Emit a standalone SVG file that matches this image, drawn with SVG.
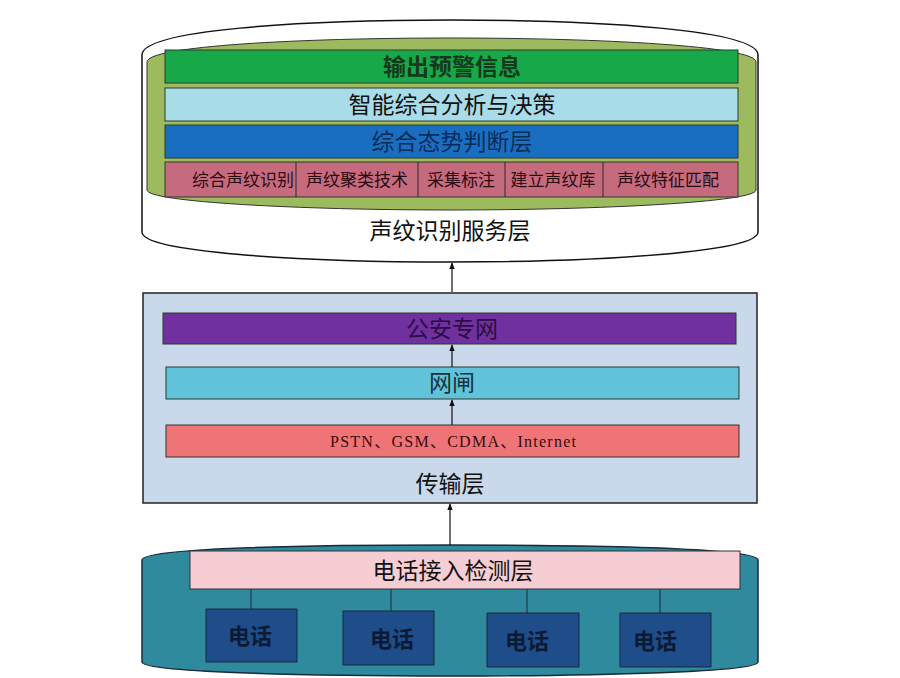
<svg xmlns="http://www.w3.org/2000/svg" width="900" height="678" viewBox="0 0 900 678">
<style>
.t{font-family:"Noto Sans CJK SC","Noto Sans",sans-serif;text-anchor:middle}
.b{font-weight:bold}
.bar{stroke:#2a3a2a;stroke-width:1}
.ln{stroke:#111;stroke-width:1.2;fill:none}
</style>
<defs>
<marker id="ah" viewBox="0 0 10 10" refX="9" refY="5" markerWidth="7" markerHeight="9" orient="auto" markerUnits="userSpaceOnUse">
<path d="M0,1 L10,5 L0,9 Z" fill="#111"/>
</marker>
</defs>
<rect width="900" height="678" fill="#fff"/>

<g id="service-layer">
<path d="M142,55 C142,30 300,20 450,20 C600,20 758,30 758,55 L758,232 C758,252 600,262 450,262 C300,262 142,252 142,232 Z" fill="#fff" stroke="#111" stroke-width="1.5"/>
<path d="M147,62 C147,46 300,38 450,38 C600,38 756,46 756,62 L756,190 C756,202 600,210 450,210 C300,210 147,202 147,190 Z" fill="#9dbb5e" stroke="#333" stroke-width="1"/>
<text class="t" x="450" y="239" font-size="23" fill="#111">声纹识别服务层</text>
</g>
<g id="output-warning">
<rect class="bar" x="165" y="50" width="573" height="33" fill="#17a84a"/>
<text class="t b" x="452" y="75" font-size="23" fill="#143a1e">输出预警信息</text>
</g>
<g id="analysis">
<rect class="bar" x="165" y="88" width="573" height="33" fill="#a9dce9"/>
<text class="t" x="452" y="113" font-size="23" fill="#111">智能综合分析与决策</text>
</g>
<g id="situation">
<rect class="bar" x="165" y="125" width="573" height="33" fill="#1a6ec2"/>
<text class="t" x="452" y="150" font-size="23" fill="#0c2c58">综合态势判断层</text>
</g>
<g id="functions">
<rect class="bar" x="165" y="162" width="573" height="35" fill="#c66a7e"/>
<line x1="296" y1="162" x2="296" y2="197" stroke="#2a2a2a"/>
<line x1="418" y1="162" x2="418" y2="197" stroke="#2a2a2a"/>
<line x1="505" y1="162" x2="505" y2="197" stroke="#2a2a2a"/>
<line x1="603" y1="162" x2="603" y2="197" stroke="#2a2a2a"/>
<text class="t" x="243" y="186" font-size="17" fill="#2a0a12">综合声纹识别</text>
<text class="t" x="357" y="186" font-size="17" fill="#2a0a12">声纹聚类技术</text>
<text class="t" x="461" y="186" font-size="17" fill="#2a0a12">采集标注</text>
<text class="t" x="553" y="186" font-size="17" fill="#2a0a12">建立声纹库</text>
<text class="t" x="668" y="186" font-size="17" fill="#2a0a12">声纹特征匹配</text>
</g>

<g id="transport-layer">
<rect x="143" y="293" width="614" height="210" fill="#c9d8ea" stroke="#222" stroke-width="1.5"/>
<text class="t" x="450" y="492" font-size="23" fill="#111">传输层</text>
</g>
<g id="police-net">
<rect class="bar" x="163" y="313" width="573" height="31" fill="#7030a0"/>
<text class="t" x="452" y="337" font-size="23" fill="#2a0e44">公安专网</text>
</g>
<g id="gatekeeper">
<rect class="bar" x="166" y="367" width="573" height="32" fill="#60c3d9"/>
<text class="t" x="452" y="391" font-size="23" fill="#15333d">网闸</text>
</g>
<g id="networks">
<rect class="bar" x="166" y="425" width="573" height="32" fill="#ef7477"/>
<text x="330" y="447" font-family="'Liberation Serif','Noto Sans CJK SC',serif" font-size="16" textLength="246" lengthAdjust="spacing" fill="#3a0a0a">PSTN、GSM、CDMA、Internet</text>
</g>

<g id="access-layer">
<path d="M142,560 C142,548 300,545 450,545 C600,545 758,548 758,560 L758,662 C758,672 600,676 450,676 C300,676 142,672 142,662 Z" fill="#2f8a9d" stroke="#1a2a3a" stroke-width="1.5"/>
<rect x="190" y="551" width="550" height="38" fill="#f5cdd3" stroke="#333" stroke-width="1"/>
<text class="t" x="453" y="579" font-size="23" fill="#111">电话接入检测层</text>
</g>
<g id="phone1">
<rect x="206" y="609" width="91" height="53" fill="#1f4d8a" stroke="#1a2a3a"/>
<text class="t b" x="250" y="644" font-size="22" fill="#0c1a34">电话</text>
</g>
<g id="phone2">
<rect x="343" y="611" width="91" height="54" fill="#1f4d8a" stroke="#1a2a3a"/>
<text class="t b" x="392" y="647" font-size="22" fill="#0c1a34">电话</text>
</g>
<g id="phone3">
<rect x="487" y="613" width="92" height="54" fill="#1f4d8a" stroke="#1a2a3a"/>
<text class="t b" x="527" y="649" font-size="22" fill="#0c1a34">电话</text>
</g>
<g id="phone4">
<rect x="620" y="613" width="91" height="54" fill="#1f4d8a" stroke="#1a2a3a"/>
<text class="t b" x="655" y="649" font-size="22" fill="#0c1a34">电话</text>
</g>

<g id="connectors">
<line class="ln" x1="452" y1="292" x2="452" y2="263" marker-end="url(#ah)"/>
<line class="ln" x1="452" y1="367" x2="452" y2="345" marker-end="url(#ah)"/>
<line class="ln" x1="452" y1="425" x2="452" y2="400" marker-end="url(#ah)"/>
<line class="ln" x1="450" y1="545" x2="450" y2="504" marker-end="url(#ah)"/>
<line x1="251" y1="589" x2="251" y2="609" stroke="#1a2a3a"/>
<line x1="391" y1="589" x2="391" y2="611" stroke="#1a2a3a"/>
<line x1="527" y1="589" x2="527" y2="613" stroke="#1a2a3a"/>
<line x1="660" y1="589" x2="660" y2="613" stroke="#1a2a3a"/>
</g>
</svg>
